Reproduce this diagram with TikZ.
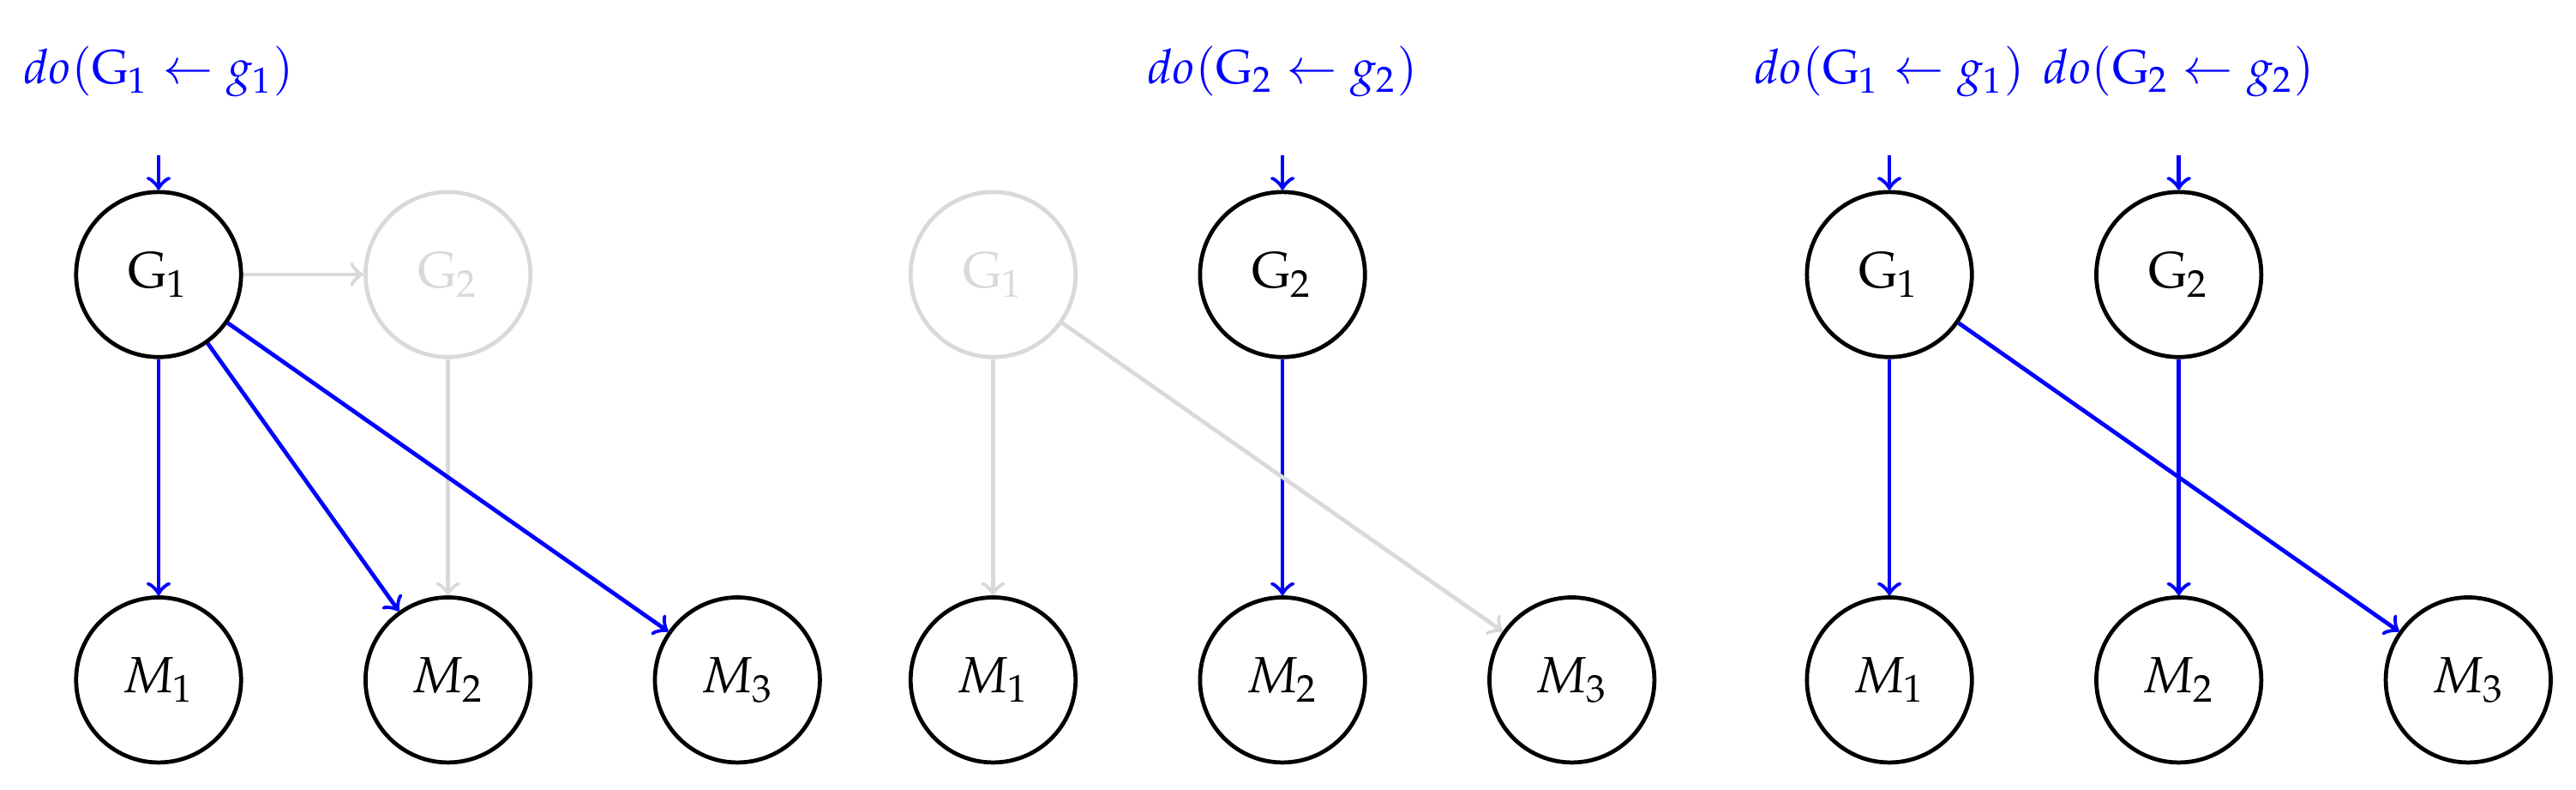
\documentclass[tikz,border=0pt]{standalone}
\usepackage{mathpazo}
\usepackage{tikz}
\usetikzlibrary{positioning}
\definecolor{doblue}{RGB}{0,0,255}
\definecolor{fadegray}{RGB}{217,217,217}

\begin{document}
\begin{tikzpicture}[
    node distance=2.8cm and 2cm, on grid,
    var/.style={circle, draw, thick, minimum size=1.14cm, inner sep=0pt},
    faded/.style={var, draw=fadegray, text=fadegray},
    cause/.style={->, thick, doblue},
    weak/.style={->, thick, fadegray},
    dolabel/.style={text=doblue, font=\fontsize{9.4}{11}\selectfont}
  ]
  \useasboundingbox (-1.096,-3.560) rectangle (16.706,1.896);

  % intervention on G1
  \begin{scope}
    \node[var] (G1a) at (0,0) {$\mathrm{G}_1$};
    \node[faded, right=of G1a] (G2a) {$\mathrm{G}_2$};
    \node[var, below=of G1a] (M1a) {$M_1$};
    \node[var, right=of M1a] (M2a) {$M_2$};
    \node[var, right=of M2a] (M3a) {$M_3$};
    \node[dolabel, above=1.4cm of G1a] (D1a) {$do(\mathrm{G}_1 \leftarrow g_1)$};
    \coordinate (I1a) at ([yshift=0.24cm]G1a.north);
    \draw[weak] (G1a) -- (G2a);
    \draw[weak] (G2a) -- (M2a);
    \draw[cause] (I1a) -- (G1a);
    \foreach \m in {M1a,M2a,M3a}
      \draw[cause] (G1a) -- (\m);
  \end{scope}

  % intervention on G2
  \begin{scope}[xshift=5.767cm]
    \node[faded] (G1b) at (0,0) {$\mathrm{G}_1$};
    \node[var, right=of G1b] (G2b) {$\mathrm{G}_2$};
    \node[var, below=of G1b] (M1b) {$M_1$};
    \node[var, right=of M1b] (M2b) {$M_2$};
    \node[var, right=of M2b] (M3b) {$M_3$};
    \node[dolabel, above=1.4cm of G2b] (D2b) {$do(\mathrm{G}_2 \leftarrow g_2)$};
    \coordinate (I2b) at ([yshift=0.24cm]G2b.north);
    \draw[cause] (I2b) -- (G2b);
    \draw[cause] (G2b) -- (M2b);
    \draw[weak] (G1b) -- (M1b);
    \draw[weak] (G1b) -- (M3b);
  \end{scope}

  % intervention on both
  \begin{scope}[xshift=11.961cm]
    \node[var] (G1c) at (0,0) {$\mathrm{G}_1$};
    \node[var, right=of G1c] (G2c) {$\mathrm{G}_2$};
    \node[var, below=of G1c] (M1c) {$M_1$};
    \node[var, right=of M1c] (M2c) {$M_2$};
    \node[var, right=of M2c] (M3c) {$M_3$};
    \node[dolabel, above=1.4cm of G1c] (D1c) {$do(\mathrm{G}_1 \leftarrow g_1)$};
    \node[dolabel, above=1.4cm of G2c] (D2c) {$do(\mathrm{G}_2 \leftarrow g_2)$};
    \coordinate (I1c) at ([yshift=0.24cm]G1c.north);
    \coordinate (I2c) at ([yshift=0.24cm]G2c.north);
    \draw[cause] (I1c) -- (G1c);
    \draw[cause] (I2c) -- (G2c);
    \draw[cause] (G1c) -- (M1c);
    \draw[cause] (G1c) -- (M3c);
    \draw[cause] (G2c) -- (M2c);
  \end{scope}
\end{tikzpicture}
\end{document}
